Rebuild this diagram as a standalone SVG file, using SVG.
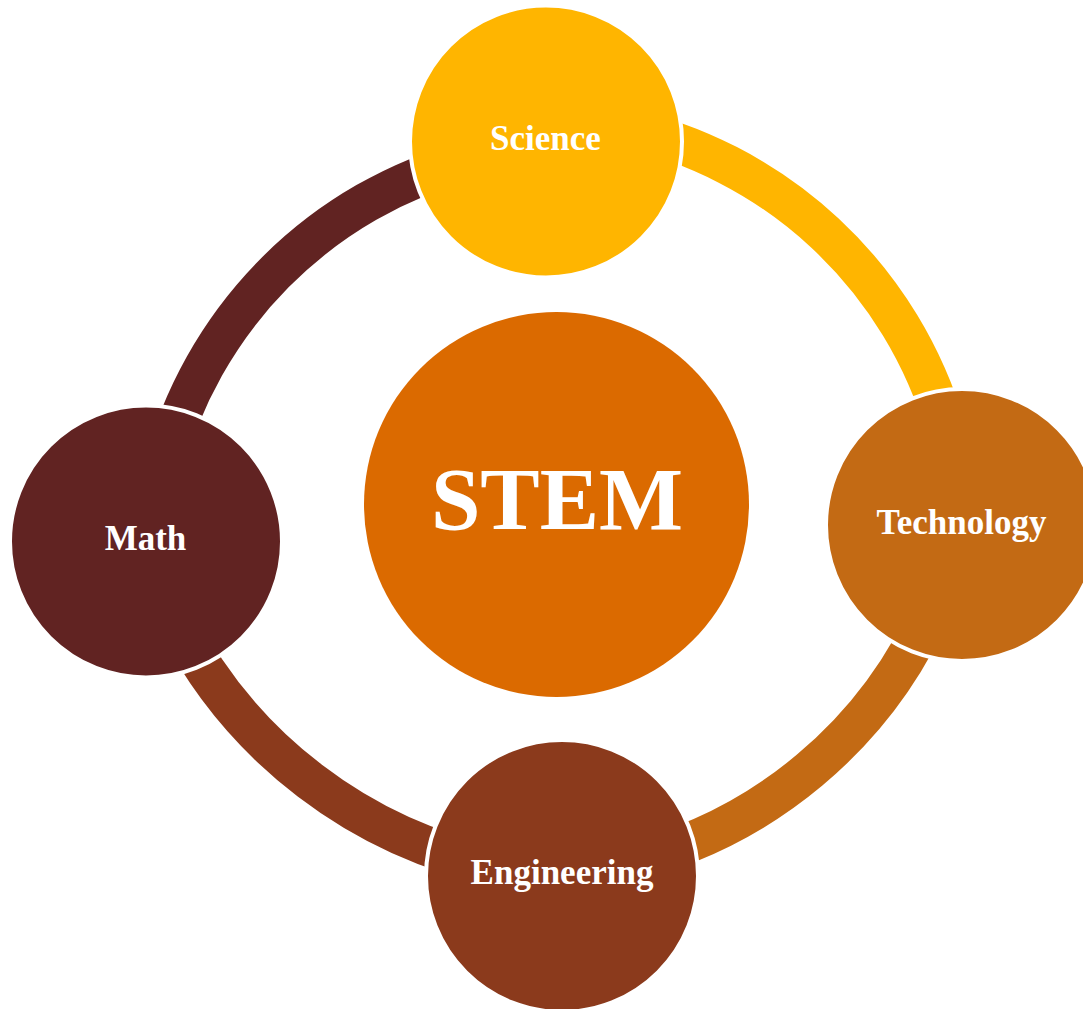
<svg xmlns="http://www.w3.org/2000/svg" width="1083" height="1009" viewBox="0 0 1083 1009">
  <style>
    .arc { fill: none; stroke-width: 40; stroke-linecap: butt; }
    .node { stroke: #FFFFFF; stroke-width: 4; }
    .lbl { font-family: "Liberation Serif", "Times New Roman", serif; font-weight: bold; fill: #FFFFFF; text-anchor: middle; font-size: 35px; }
    .big { font-size: 89px; }
  </style>
  <rect width="1083" height="1009" fill="#FFFFFF"/>
  <g id="connectors">
    <path class="arc" stroke="#FFB500" d="M 620 126.5 A 433 433 0 0 1 946 430"/>
    <path class="arc" stroke="#C36A14" d="M 935.2 600 A 450 450 0 0 1 620 864.1"/>
    <path class="arc" stroke="#8B3A1C" d="M 500 867.3 A 470 470 0 0 1 176 620"/>
    <path class="arc" stroke="#612322" d="M 162.7 470 A 433 433 0 0 1 470 159.7"/>
  </g>
  <g id="stem">
    <circle cx="556.5" cy="504.5" r="192.5" fill="#DB6A00"/>
    <text class="lbl big" x="557" y="529">STEM</text>
  </g>
  <g id="science">
    <circle class="node" cx="546" cy="141.5" r="136" fill="#FFB500"/>
    <text class="lbl" x="545.5" y="150">Science</text>
  </g>
  <g id="technology">
    <circle class="node" cx="962" cy="525" r="136" fill="#C36A14"/>
    <text class="lbl" x="961.5" y="534">Technology</text>
  </g>
  <g id="engineering">
    <circle class="node" cx="562" cy="876" r="136" fill="#8B3A1C"/>
    <text class="lbl" x="562" y="884">Engineering</text>
  </g>
  <g id="math">
    <circle class="node" cx="146" cy="541.5" r="136" fill="#612322"/>
    <text class="lbl" x="145.5" y="550">Math</text>
  </g>
</svg>
